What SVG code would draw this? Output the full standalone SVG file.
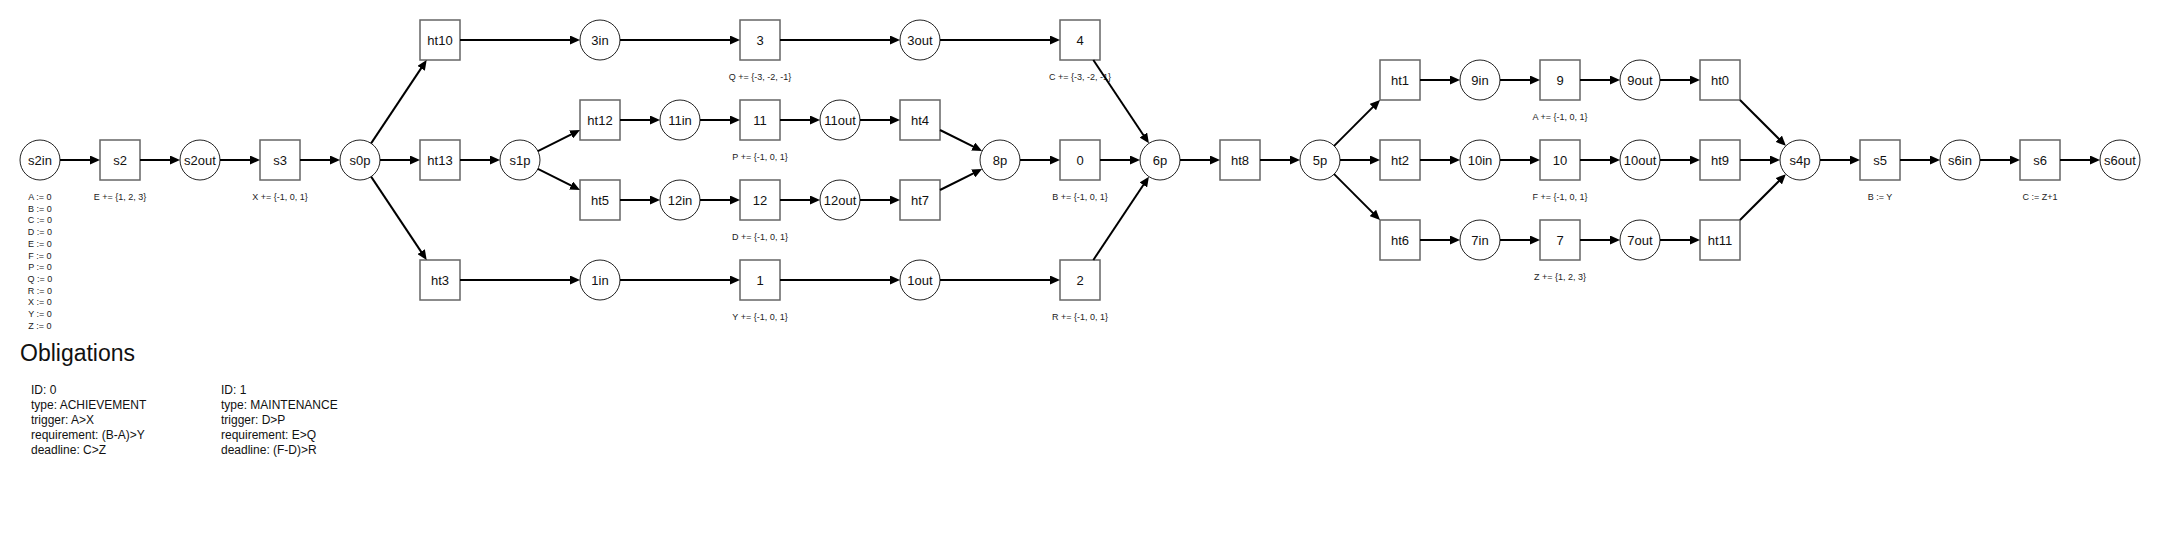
<svg xmlns="http://www.w3.org/2000/svg" width="2160" height="550" viewBox="0 0 2160 550">
<style>
  .bg{fill:#ffffff}
  .box{fill:#ffffff;stroke:#666666;stroke-width:1.5}
  .place{fill:#ffffff;stroke:#222222;stroke-width:1}
  .lbl{font-family:"Liberation Sans",Arial,sans-serif;font-size:13px;fill:#111111;text-anchor:middle}
  .note{font-family:"Liberation Sans",Arial,sans-serif;font-size:9px;fill:#222222;text-anchor:middle}
  .title{font-family:"Liberation Sans",Arial,sans-serif;font-size:23px;fill:#111111}
  .ob{font-family:"Liberation Sans",Arial,sans-serif;font-size:12px;fill:#111111}
  .edges line{stroke:#000000;stroke-width:2;fill:none;marker-end:url(#arrow)}
</style>
<defs>
  <marker id="arrow" markerUnits="userSpaceOnUse" markerWidth="10" markerHeight="9" refX="2" refY="4.5" orient="auto">
    <path d="M0,0 L10,4.5 L0,9 z" fill="#000000"/>
  </marker>
</defs>
<rect class="bg" x="0" y="0" width="2160" height="550"/>

<g id="s2in"><circle class="place" cx="40" cy="160" r="20"/><text class="lbl" x="40" y="164.5">s2in</text>
  <text class="note" x="40" y="200">A := 0</text>
  <text class="note" x="40" y="211.7">B := 0</text>
  <text class="note" x="40" y="223.4">C := 0</text>
  <text class="note" x="40" y="235.1">D := 0</text>
  <text class="note" x="40" y="246.8">E := 0</text>
  <text class="note" x="40" y="258.5">F := 0</text>
  <text class="note" x="40" y="270.2">P := 0</text>
  <text class="note" x="40" y="281.9">Q := 0</text>
  <text class="note" x="40" y="293.6">R := 0</text>
  <text class="note" x="40" y="305.3">X := 0</text>
  <text class="note" x="40" y="317">Y := 0</text>
  <text class="note" x="40" y="328.7">Z := 0</text>
</g>
<g id="s2"><rect class="box" x="100" y="140" width="40" height="40"/><text class="lbl" x="120" y="164.5">s2</text><text class="note" x="120" y="200">E += {1, 2, 3}</text></g>
<g id="s2out"><circle class="place" cx="200" cy="160" r="20"/><text class="lbl" x="200" y="164.5">s2out</text></g>
<g id="s3"><rect class="box" x="260" y="140" width="40" height="40"/><text class="lbl" x="280" y="164.5">s3</text><text class="note" x="280" y="200">X += {-1, 0, 1}</text></g>
<g id="s0p"><circle class="place" cx="360" cy="160" r="20"/><text class="lbl" x="360" y="164.5">s0p</text></g>
<g id="ht10"><rect class="box" x="420" y="20" width="40" height="40"/><text class="lbl" x="440" y="44.5">ht10</text></g>
<g id="ht13"><rect class="box" x="420" y="140" width="40" height="40"/><text class="lbl" x="440" y="164.5">ht13</text></g>
<g id="ht3"><rect class="box" x="420" y="260" width="40" height="40"/><text class="lbl" x="440" y="284.5">ht3</text></g>
<g id="s1p"><circle class="place" cx="520" cy="160" r="20"/><text class="lbl" x="520" y="164.5">s1p</text></g>
<g id="n3in"><circle class="place" cx="600" cy="40" r="20"/><text class="lbl" x="600" y="44.5">3in</text></g>
<g id="ht12"><rect class="box" x="580" y="100" width="40" height="40"/><text class="lbl" x="600" y="124.5">ht12</text></g>
<g id="ht5"><rect class="box" x="580" y="180" width="40" height="40"/><text class="lbl" x="600" y="204.5">ht5</text></g>
<g id="n1in"><circle class="place" cx="600" cy="280" r="20"/><text class="lbl" x="600" y="284.5">1in</text></g>
<g id="n11in"><circle class="place" cx="680" cy="120" r="20"/><text class="lbl" x="680" y="124.5">11in</text></g>
<g id="n12in"><circle class="place" cx="680" cy="200" r="20"/><text class="lbl" x="680" y="204.5">12in</text></g>
<g id="n3"><rect class="box" x="740" y="20" width="40" height="40"/><text class="lbl" x="760" y="44.5">3</text><text class="note" x="760" y="80">Q += {-3, -2, -1}</text></g>
<g id="n11"><rect class="box" x="740" y="100" width="40" height="40"/><text class="lbl" x="760" y="124.5">11</text><text class="note" x="760" y="160">P += {-1, 0, 1}</text></g>
<g id="n12"><rect class="box" x="740" y="180" width="40" height="40"/><text class="lbl" x="760" y="204.5">12</text><text class="note" x="760" y="240">D += {-1, 0, 1}</text></g>
<g id="n1"><rect class="box" x="740" y="260" width="40" height="40"/><text class="lbl" x="760" y="284.5">1</text><text class="note" x="760" y="320">Y += {-1, 0, 1}</text></g>
<g id="n11out"><circle class="place" cx="840" cy="120" r="20"/><text class="lbl" x="840" y="124.5">11out</text></g>
<g id="n12out"><circle class="place" cx="840" cy="200" r="20"/><text class="lbl" x="840" y="204.5">12out</text></g>
<g id="n3out"><circle class="place" cx="920" cy="40" r="20"/><text class="lbl" x="920" y="44.5">3out</text></g>
<g id="ht4"><rect class="box" x="900" y="100" width="40" height="40"/><text class="lbl" x="920" y="124.5">ht4</text></g>
<g id="ht7"><rect class="box" x="900" y="180" width="40" height="40"/><text class="lbl" x="920" y="204.5">ht7</text></g>
<g id="n1out"><circle class="place" cx="920" cy="280" r="20"/><text class="lbl" x="920" y="284.5">1out</text></g>
<g id="n8p"><circle class="place" cx="1000" cy="160" r="20"/><text class="lbl" x="1000" y="164.5">8p</text></g>
<g id="n4"><rect class="box" x="1060" y="20" width="40" height="40"/><text class="lbl" x="1080" y="44.5">4</text><text class="note" x="1080" y="80">C += {-3, -2, -1}</text></g>
<g id="n0"><rect class="box" x="1060" y="140" width="40" height="40"/><text class="lbl" x="1080" y="164.5">0</text><text class="note" x="1080" y="200">B += {-1, 0, 1}</text></g>
<g id="n2"><rect class="box" x="1060" y="260" width="40" height="40"/><text class="lbl" x="1080" y="284.5">2</text><text class="note" x="1080" y="320">R += {-1, 0, 1}</text></g>
<g id="n6p"><circle class="place" cx="1160" cy="160" r="20"/><text class="lbl" x="1160" y="164.5">6p</text></g>
<g id="ht8"><rect class="box" x="1220" y="140" width="40" height="40"/><text class="lbl" x="1240" y="164.5">ht8</text></g>
<g id="n5p"><circle class="place" cx="1320" cy="160" r="20"/><text class="lbl" x="1320" y="164.5">5p</text></g>
<g id="ht1"><rect class="box" x="1380" y="60" width="40" height="40"/><text class="lbl" x="1400" y="84.5">ht1</text></g>
<g id="ht2"><rect class="box" x="1380" y="140" width="40" height="40"/><text class="lbl" x="1400" y="164.5">ht2</text></g>
<g id="ht6"><rect class="box" x="1380" y="220" width="40" height="40"/><text class="lbl" x="1400" y="244.5">ht6</text></g>
<g id="n9in"><circle class="place" cx="1480" cy="80" r="20"/><text class="lbl" x="1480" y="84.5">9in</text></g>
<g id="n10in"><circle class="place" cx="1480" cy="160" r="20"/><text class="lbl" x="1480" y="164.5">10in</text></g>
<g id="n7in"><circle class="place" cx="1480" cy="240" r="20"/><text class="lbl" x="1480" y="244.5">7in</text></g>
<g id="n9"><rect class="box" x="1540" y="60" width="40" height="40"/><text class="lbl" x="1560" y="84.5">9</text><text class="note" x="1560" y="120">A += {-1, 0, 1}</text></g>
<g id="n10"><rect class="box" x="1540" y="140" width="40" height="40"/><text class="lbl" x="1560" y="164.5">10</text><text class="note" x="1560" y="200">F += {-1, 0, 1}</text></g>
<g id="n7"><rect class="box" x="1540" y="220" width="40" height="40"/><text class="lbl" x="1560" y="244.5">7</text><text class="note" x="1560" y="280">Z += {1, 2, 3}</text></g>
<g id="n9out"><circle class="place" cx="1640" cy="80" r="20"/><text class="lbl" x="1640" y="84.5">9out</text></g>
<g id="n10out"><circle class="place" cx="1640" cy="160" r="20"/><text class="lbl" x="1640" y="164.5">10out</text></g>
<g id="n7out"><circle class="place" cx="1640" cy="240" r="20"/><text class="lbl" x="1640" y="244.5">7out</text></g>
<g id="ht0"><rect class="box" x="1700" y="60" width="40" height="40"/><text class="lbl" x="1720" y="84.5">ht0</text></g>
<g id="ht9"><rect class="box" x="1700" y="140" width="40" height="40"/><text class="lbl" x="1720" y="164.5">ht9</text></g>
<g id="ht11"><rect class="box" x="1700" y="220" width="40" height="40"/><text class="lbl" x="1720" y="244.5">ht11</text></g>
<g id="s4p"><circle class="place" cx="1800" cy="160" r="20"/><text class="lbl" x="1800" y="164.5">s4p</text></g>
<g id="s5"><rect class="box" x="1860" y="140" width="40" height="40"/><text class="lbl" x="1880" y="164.5">s5</text><text class="note" x="1880" y="200">B := Y</text></g>
<g id="s6in"><circle class="place" cx="1960" cy="160" r="20"/><text class="lbl" x="1960" y="164.5">s6in</text></g>
<g id="s6"><rect class="box" x="2020" y="140" width="40" height="40"/><text class="lbl" x="2040" y="164.5">s6</text><text class="note" x="2040" y="200">C := Z+1</text></g>
<g id="s6out"><circle class="place" cx="2120" cy="160" r="20"/><text class="lbl" x="2120" y="164.5">s6out</text></g>

<g id="connectors" class="edges">
  <line x1="60" y1="160" x2="92" y2="160"/>
  <line x1="140" y1="160" x2="172" y2="160"/>
  <line x1="220" y1="160" x2="252" y2="160"/>
  <line x1="300" y1="160" x2="332" y2="160"/>
  <line x1="371.09" y1="143.36" x2="422.23" y2="66.66"/>
  <line x1="380" y1="160" x2="412" y2="160"/>
  <line x1="371.09" y1="176.64" x2="422.23" y2="253.34"/>
  <line x1="460" y1="40" x2="572" y2="40"/>
  <line x1="620" y1="40" x2="732" y2="40"/>
  <line x1="780" y1="40" x2="892" y2="40"/>
  <line x1="940" y1="40" x2="1052" y2="40"/>
  <line x1="460" y1="160" x2="492" y2="160"/>
  <line x1="537.89" y1="151.06" x2="572.84" y2="133.58"/>
  <line x1="537.89" y1="168.94" x2="572.84" y2="186.42"/>
  <line x1="620" y1="120" x2="652" y2="120"/>
  <line x1="700" y1="120" x2="732" y2="120"/>
  <line x1="780" y1="120" x2="812" y2="120"/>
  <line x1="860" y1="120" x2="892" y2="120"/>
  <line x1="620" y1="200" x2="652" y2="200"/>
  <line x1="700" y1="200" x2="732" y2="200"/>
  <line x1="780" y1="200" x2="812" y2="200"/>
  <line x1="860" y1="200" x2="892" y2="200"/>
  <line x1="940" y1="130" x2="974.95" y2="147.48"/>
  <line x1="940" y1="190" x2="974.95" y2="172.52"/>
  <line x1="460" y1="280" x2="572" y2="280"/>
  <line x1="620" y1="280" x2="732" y2="280"/>
  <line x1="780" y1="280" x2="892" y2="280"/>
  <line x1="940" y1="280" x2="1052" y2="280"/>
  <line x1="1020" y1="160" x2="1052" y2="160"/>
  <line x1="1093.33" y1="60" x2="1144.47" y2="136.70"/>
  <line x1="1100" y1="160" x2="1132" y2="160"/>
  <line x1="1093.33" y1="260" x2="1144.47" y2="183.30"/>
  <line x1="1180" y1="160" x2="1212" y2="160"/>
  <line x1="1260" y1="160" x2="1292" y2="160"/>
  <line x1="1334.14" y1="145.86" x2="1374.34" y2="105.66"/>
  <line x1="1340" y1="160" x2="1372" y2="160"/>
  <line x1="1334.14" y1="174.14" x2="1374.34" y2="214.34"/>
  <line x1="1420" y1="80" x2="1452" y2="80"/>
  <line x1="1500" y1="80" x2="1532" y2="80"/>
  <line x1="1580" y1="80" x2="1612" y2="80"/>
  <line x1="1660" y1="80" x2="1692" y2="80"/>
  <line x1="1420" y1="160" x2="1452" y2="160"/>
  <line x1="1500" y1="160" x2="1532" y2="160"/>
  <line x1="1580" y1="160" x2="1612" y2="160"/>
  <line x1="1660" y1="160" x2="1692" y2="160"/>
  <line x1="1420" y1="240" x2="1452" y2="240"/>
  <line x1="1500" y1="240" x2="1532" y2="240"/>
  <line x1="1580" y1="240" x2="1612" y2="240"/>
  <line x1="1660" y1="240" x2="1692" y2="240"/>
  <line x1="1740" y1="100" x2="1780.20" y2="140.20"/>
  <line x1="1740" y1="160" x2="1772" y2="160"/>
  <line x1="1740" y1="220" x2="1780.20" y2="179.80"/>
  <line x1="1820" y1="160" x2="1852" y2="160"/>
  <line x1="1900" y1="160" x2="1932" y2="160"/>
  <line x1="1980" y1="160" x2="2012" y2="160"/>
  <line x1="2060" y1="160" x2="2092" y2="160"/>
</g>

<g id="obligations">
  <text class="title" x="20" y="361">Obligations</text>
  <text class="ob" x="31" y="393.5">ID: 0</text>
  <text class="ob" x="31" y="408.5">type: ACHIEVEMENT</text>
  <text class="ob" x="31" y="423.5">trigger: A&gt;X</text>
  <text class="ob" x="31" y="438.5">requirement: (B-A)&gt;Y</text>
  <text class="ob" x="31" y="453.5">deadline: C&gt;Z</text>
  <text class="ob" x="221" y="393.5">ID: 1</text>
  <text class="ob" x="221" y="408.5">type: MAINTENANCE</text>
  <text class="ob" x="221" y="423.5">trigger: D&gt;P</text>
  <text class="ob" x="221" y="438.5">requirement: E&gt;Q</text>
  <text class="ob" x="221" y="453.5">deadline: (F-D)&gt;R</text>
</g>
</svg>
